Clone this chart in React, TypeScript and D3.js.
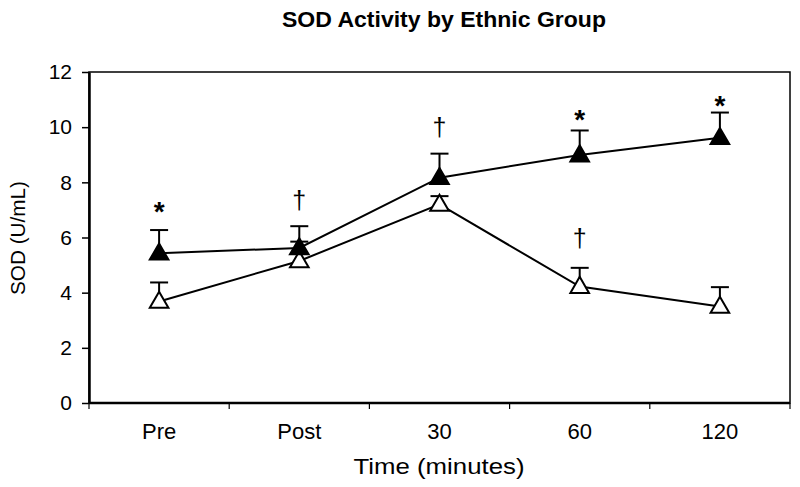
import React, { useEffect, useRef } from 'react';
import * as d3 from 'd3';

const categories = ['Pre', 'Post', '30', '60', '120'];
const filledValues = [5.43, 5.62, 8.17, 8.99, 9.62];
const filledUpper = [6.27, 6.41, 9.04, 9.88, 10.53];
const openValues = [3.68, 5.15, 7.2, 4.22, 3.5];
const openUpper = [4.37, 5.85, 7.5, 4.9, 4.2];
const yTicks = [0, 2, 4, 6, 8, 10, 12];

const marks = ['*', '†', '†', '*', '*', '†'];
const markCategory = ['Pre', 'Post', '30', '60', '120', '60'];
const markValue = [7.35, 7.35, 10.0, 10.7, 11.2, 5.98];

const App: React.FC = () => {
  const svgRef = useRef<SVGSVGElement>(null);

  useEffect(() => {
    if (!svgRef.current) return;
    const svg = d3.select(svgRef.current);
    svg.selectAll('*').remove();

    const width = 800;
    const height = 487;
    const margin = { top: 72, right: 10, bottom: 84, left: 89 };
    const innerWidth = width - margin.left - margin.right;
    const innerHeight = height - margin.top - margin.bottom;
    const font = 'Liberation Sans, Arial, sans-serif';

    const g = svg.append('g').attr('transform', `translate(${margin.left},${margin.top})`);

    const x = d3.scaleBand<string>().domain(categories).range([0, innerWidth]);
    const y = d3.scaleLinear().domain([0, 12]).range([innerHeight, 0]);
    const cx = (c: string) => (x(c) as number) + x.bandwidth() / 2;

    // title
    svg.append('text')
      .attr('x', 444)
      .attr('y', 27)
      .attr('text-anchor', 'middle')
      .attr('font-family', font)
      .attr('font-weight', 'bold')
      .attr('font-size', '22px')
      .attr('textLength', 324)
      .attr('lengthAdjust', 'spacingAndGlyphs')
      .text('SOD Activity by Ethnic Group');

    // frame (top / right)
    g.append('rect')
      .attr('width', innerWidth)
      .attr('height', innerHeight)
      .attr('fill', 'none')
      .attr('stroke', '#000')
      .attr('stroke-width', 1.5);

    // Y axis
    const yAxis = g.append('g')
      .call(d3.axisLeft(y).tickValues(yTicks).tickSize(7).tickSizeOuter(0).tickPadding(10));
    yAxis.select('.domain').attr('stroke-width', 2.5);
    yAxis.selectAll('line').attr('stroke-width', 1.5);
    yAxis.selectAll('text')
      .attr('font-family', font)
      .attr('font-size', '21px')
      .attr('fill', '#000');

    // X axis with ticks at band boundaries
    const xAxis = g.append('g').attr('transform', `translate(0,${innerHeight})`);
    xAxis.append('line')
      .attr('x1', 0).attr('x2', innerWidth)
      .attr('stroke', '#000').attr('stroke-width', 2.5);
    const boundaries = categories.map(c => x(c) as number).concat([innerWidth]);
    xAxis.selectAll('.xtick')
      .data(boundaries)
      .enter()
      .append('line')
      .attr('x1', d => d).attr('x2', d => d)
      .attr('y1', 0).attr('y2', 6)
      .attr('stroke', '#000').attr('stroke-width', 1.2);
    xAxis.selectAll('.xlabel')
      .data(categories)
      .enter()
      .append('text')
      .attr('x', d => cx(d))
      .attr('y', 36)
      .attr('text-anchor', 'middle')
      .attr('font-family', font)
      .attr('font-size', '22px')
      .text(d => d);

    // axis titles
    svg.append('text')
      .attr('x', 439)
      .attr('y', 474)
      .attr('text-anchor', 'middle')
      .attr('font-family', font)
      .attr('font-size', '22px')
      .attr('textLength', 171)
      .attr('lengthAdjust', 'spacingAndGlyphs')
      .text('Time (minutes)');

    svg.append('text')
      .attr('transform', `translate(25,238) rotate(-90)`)
      .attr('text-anchor', 'middle')
      .attr('font-family', font)
      .attr('font-size', '20px')
      .attr('textLength', 114)
      .attr('lengthAdjust', 'spacingAndGlyphs')
      .text('SOD (U/mL)');

    const line = d3.line<number>()
      .x((_, i) => cx(categories[i]))
      .y(d => y(d));

    const triangle = d3.symbol().type(d3.symbolTriangle).size(150);

    const drawSeries = (vals: number[], upper: number[], filled: boolean) => {
      const s = g.append('g');
      // error bars
      vals.forEach((v, i) => {
        const px = cx(categories[i]);
        s.append('line')
          .attr('x1', px).attr('x2', px)
          .attr('y1', y(v)).attr('y2', y(upper[i]))
          .attr('stroke', '#000').attr('stroke-width', 2);
        s.append('line')
          .attr('x1', px - 9).attr('x2', px + 9)
          .attr('y1', y(upper[i])).attr('y2', y(upper[i]))
          .attr('stroke', '#000').attr('stroke-width', 2);
      });
      s.append('path')
        .datum(vals)
        .attr('fill', 'none')
        .attr('stroke', '#000')
        .attr('stroke-width', 2)
        .attr('d', line);
      s.selectAll('.pt')
        .data(vals)
        .enter()
        .append('path')
        .attr('transform', (d, i) => `translate(${cx(categories[i])},${y(d) + 1})`)
        .attr('d', triangle)
        .attr('fill', filled ? '#000' : '#fff')
        .attr('stroke', '#000')
        .attr('stroke-width', 2);
    };

    drawSeries(openValues, openUpper, false);
    drawSeries(filledValues, filledUpper, true);

    // significance marks
    g.selectAll('.mark')
      .data(marks)
      .enter()
      .append('text')
      .attr('x', (_, i) => cx(markCategory[i]))
      .attr('y', (_, i) => y(markValue[i]))
      .attr('dy', (d) => (d === '*' ? '0.75em' : '0.35em'))
      .attr('text-anchor', 'middle')
      .attr('font-family', font)
      .attr('font-weight', (d) => (d === '*' ? 'bold' : 'normal'))
      .attr('font-size', (d) => (d === '*' ? '28px' : '25px'))
      .text(d => d);
  }, []);

  return (
    <svg
      ref={svgRef}
      width={800}
      height={487}
      style={{ position: 'absolute', left: 0, top: 0, background: '#fff' }}
    />
  );
};

export default App;
